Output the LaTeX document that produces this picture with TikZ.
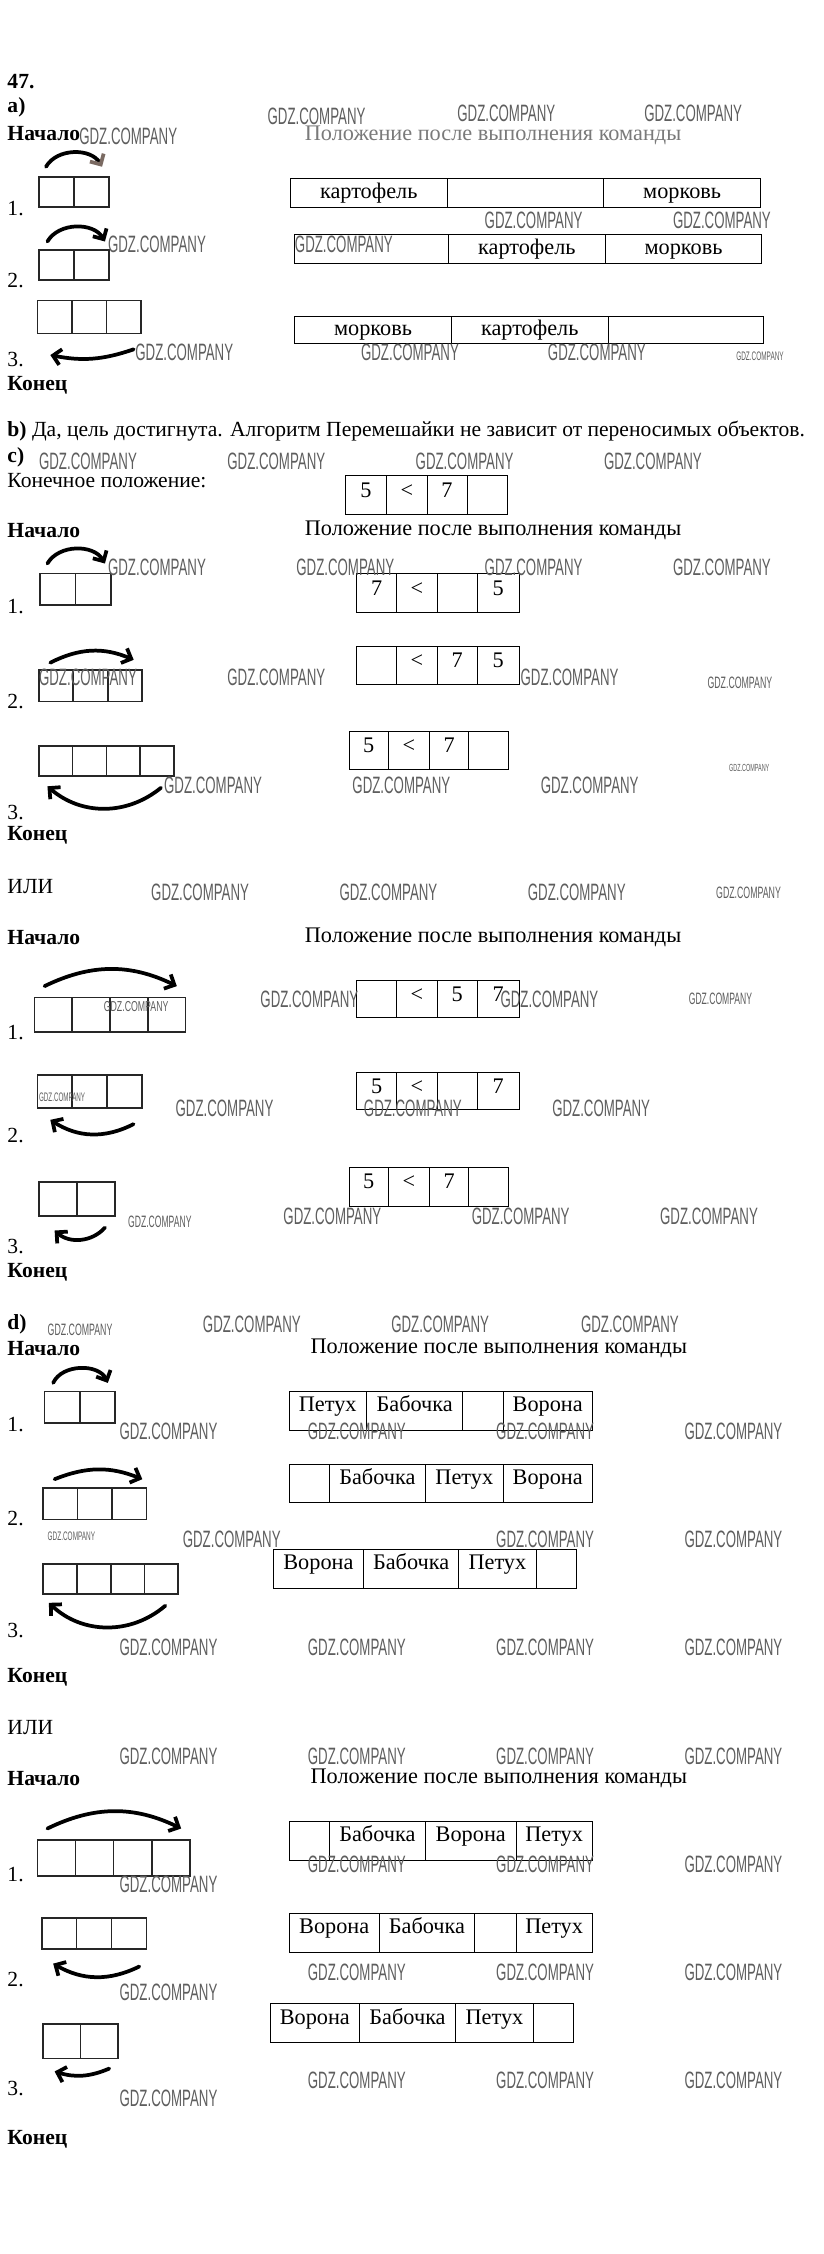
\documentclass[tikz,border=0pt]{standalone}
\usepackage{fontspec}
\setmainfont{Liberation Serif}
\newfontfamily\gdzfont{Liberation Sans}
\usetikzlibrary{arrows.meta,positioning}
\definecolor{MarkGray}{HTML}{5E5E5E}
\definecolor{TitleGray}{HTML}{7A7A7A}
\definecolor{TipBrown}{HTML}{7A6A62}
\newcommand{\gdz}[2]{\resizebox{#1pt}{#2pt}{\gdzfont GDZ.COMPANY}}
\tikzset{
    txt/.style={anchor=west, inner sep=0pt, font=\fontsize{15}{17}\selectfont},
    bold/.style={anchor=west, inner sep=0pt, font=\fontsize{15}{17}\selectfont\bfseries},
    title/.style={inner sep=0pt, font=\fontsize{15.5}{17}\selectfont},
    wmark/.style={anchor=west, inner sep=0pt, text=MarkGray},
    box/.style 2 args={draw=black!85, line width=1.2pt, inner sep=0pt, outer sep=0pt, minimum width=#1pt, minimum height=#2pt},
    cell/.style n args={3}{draw, line width=.6pt, inner sep=0pt, outer sep=0pt, minimum width=#1pt, minimum height=#2pt, text height=10pt, text depth=#3pt, font=\fontsize{15.5}{17}\selectfont},
    move/.style={line width=2.6pt, line cap=round, -{Straight Barb[length=5.5pt,width=11pt]}}
}

\begin{document}
\begin{tikzpicture}[x=1pt,y=1pt]
    \useasboundingbox (0,0) rectangle (573,-1568);
    \fill[white] (0,0) rectangle (573,-1568);

    \node[bold] (n47) at (5,-57) {47.};
    \node[bold] (pa) at (5,-75) {a)};
    \node[bold] (starta) at (5,-93) {Начало};
    \node[title, text=TitleGray] (titlea) at (343,-94) {Положение после выполнения команды};
    \node[txt] (sa1) at (5,-145) {1.};
    \node[txt] (sa2) at (5,-195) {2.};
    \node[txt] (sa3) at (5,-250) {3.};
    \node[bold] (enda) at (5,-268) {Конец};

    \node[box={24.5}{21}, anchor=north west] (ga1-1) at (27,-123) {};
    \node[box={24.5}{21}, right=0pt of ga1-1] (ga1-2) {};
    \node[box={24.5}{21}, anchor=north west] (ga2-1) at (27,-174) {};
    \node[box={24.5}{21}, right=0pt of ga2-1] (ga2-2) {};
    \node[box={24}{23}, anchor=north west] (ga3-1) at (26,-209) {};
    \node[box={24}{23}, right=0pt of ga3-1] (ga3-2) {};
    \node[box={24}{23}, right=0pt of ga3-2] (ga3-3) {};
    \draw[move, -{Straight Barb[length=5.5pt,width=11pt,color=TipBrown]}] ([shift={(5,7)}]ga1-1.north west) to[bend left=60] ([shift={(-5,7)}]ga1-2.north east);
    \draw[move] ([shift={(6,6)}]ga2-1.north west) to[bend left=60] ([shift={(-3,6)}]ga2-2.north east);
    \draw[move] ([shift={(-5,-11)}]ga3-3.south east) to[bend left=15] ([shift={(9,-15)}]ga3-1.south west);

    \node[cell={109}{20}{2}, anchor=north west] (ta1-1) at (202,-124) {картофель};
    \node[cell={109}{20}{2}, right=0pt of ta1-1] (ta1-2) {};
    \node[cell={109}{20}{2}, right=0pt of ta1-2] (ta1-3) {морковь};
    \node[cell={107}{20}{2}, anchor=north west] (ta2-1) at (205,-163) {};
    \node[cell={109}{20}{2}, right=0pt of ta2-1] (ta2-2) {картофель};
    \node[cell={109}{20}{2}, right=0pt of ta2-2] (ta2-3) {морковь};
    \node[cell={109}{19}{2}, anchor=north west] (ta3-1) at (205,-220) {морковь};
    \node[cell={109}{19}{2}, right=0pt of ta3-1] (ta3-2) {картофель};
    \node[cell={108}{19}{2}, right=0pt of ta3-2] (ta3-3) {};

    \node[txt] (pb) at (5,-300) {\textbf{b)} Да, цель достигнута. Алгоритм Перемешайки не зависит от переносимых объектов.};
    \node[bold] (pc) at (5,-318) {c)};
    \node[txt] (goal) at (5,-334) {Конечное положение:};
    \node[cell={29}{27}{7}, anchor=north west] (tc0-1) at (240,-331) {5};
    \node[cell={28}{27}{7}, right=0pt of tc0-1] (tc0-2) {<};
    \node[cell={28}{27}{7}, right=0pt of tc0-2] (tc0-3) {7};
    \node[cell={28}{27}{7}, right=0pt of tc0-3] (tc0-4) {};
    \node[bold] (startc) at (5,-369) {Начало};
    \node[title] (titlec) at (343,-369) {Положение после выполнения команды};
    \node[txt] (sc1) at (5,-422) {1.};
    \node[txt] (sc2) at (5,-488) {2.};
    \node[txt] (sc3) at (5,-565) {3.};
    \node[bold] (endc) at (5,-581) {Конец};

    \node[box={24.5}{22}, anchor=north west] (gc1-1) at (28,-399) {};
    \node[box={24.5}{22}, right=0pt of gc1-1] (gc1-2) {};
    \node[box={24}{22}, anchor=north west] (gc2-1) at (27,-466) {};
    \node[box={24}{22}, right=0pt of gc2-1] (gc2-2) {};
    \node[box={24}{22}, right=0pt of gc2-2] (gc2-3) {};
    \node[box={23.5}{21}, anchor=north west] (gc3-1) at (27,-519) {};
    \node[box={23.5}{21}, right=0pt of gc3-1] (gc3-2) {};
    \node[box={23.5}{21}, right=0pt of gc3-2] (gc3-3) {};
    \node[box={23.5}{21}, right=0pt of gc3-3] (gc3-4) {};
    \draw[move] ([shift={(5,7)}]gc1-1.north west) to[bend left=60] ([shift={(-4,7)}]gc1-2.north east);
    \draw[move] ([shift={(8,5)}]gc2-1.north west) to[bend left=25] ([shift={(-6,7)}]gc2-3.north east);
    \draw[move] ([shift={(-9,-8)}]gc3-4.south east) to[bend left=40] ([shift={(6,-7)}]gc3-1.south west);

    \node[cell={28}{27}{7}, anchor=north west] (tc1-1) at (248,-399) {7};
    \node[cell={28}{27}{7}, right=0pt of tc1-1] (tc1-2) {<};
    \node[cell={28}{27}{7}, right=0pt of tc1-2] (tc1-3) {};
    \node[cell={29}{27}{7}, right=0pt of tc1-3] (tc1-4) {5};
    \node[cell={28}{26}{7}, anchor=north west] (tc2-1) at (248,-450) {};
    \node[cell={28}{26}{7}, right=0pt of tc2-1] (tc2-2) {<};
    \node[cell={28}{26}{7}, right=0pt of tc2-2] (tc2-3) {7};
    \node[cell={29}{26}{7}, right=0pt of tc2-3] (tc2-4) {5};
    \node[cell={27}{26}{7}, anchor=north west] (tc3-1) at (243,-509) {5};
    \node[cell={29}{26}{7}, right=0pt of tc3-1] (tc3-2) {<};
    \node[cell={27}{26}{7}, right=0pt of tc3-2] (tc3-3) {7};
    \node[cell={28}{26}{7}, right=0pt of tc3-3] (tc3-4) {};

    \node[txt] (ora) at (5,-617) {ИЛИ};
    \node[bold] (starto) at (5,-652) {Начало};
    \node[title] (titleo) at (343,-652) {Положение после выполнения команды};
    \node[txt] (so1) at (5,-718) {1.};
    \node[txt] (so2) at (5,-790) {2.};
    \node[txt] (so3) at (5,-867) {3.};
    \node[bold] (endo) at (5,-885) {Конец};

    \node[box={26.25}{24}, anchor=north west] (go1-1) at (24,-694) {};
    \node[box={26.25}{24}, right=0pt of go1-1] (go1-2) {};
    \node[box={26.25}{24}, right=0pt of go1-2] (go1-3) {};
    \node[box={26.25}{24}, right=0pt of go1-3] (go1-4) {};
    \node[box={24.3}{23}, anchor=north west] (go2-1) at (26,-748) {};
    \node[box={24.3}{23}, right=0pt of go2-1] (go2-2) {};
    \node[box={24.3}{23}, right=0pt of go2-2] (go2-3) {};
    \node[box={26.5}{24}, anchor=north west] (go3-1) at (27,-822) {};
    \node[box={26.5}{24}, right=0pt of go3-1] (go3-2) {};
    \draw[move] ([shift={(7,8)}]go1-1.north west) to[bend left=26] ([shift={(-6,8)}]go1-4.north east);
    \draw[move] ([shift={(-6,-11)}]go2-3.south east) to[bend left=30] ([shift={(9,-8)}]go2-1.south west);
    \draw[move] ([shift={(-7,-8)}]go3-2.south east) to[bend left=45] ([shift={(11,-10)}]go3-1.south west);

    \node[cell={28}{26}{7}, anchor=north west] (to1-1) at (248,-682) {};
    \node[cell={28}{26}{7}, right=0pt of to1-1] (to1-2) {<};
    \node[cell={28}{26}{7}, right=0pt of to1-2] (to1-3) {5};
    \node[cell={29}{26}{7}, right=0pt of to1-3] (to1-4) {7};
    \node[cell={28}{26}{7}, anchor=north west] (to2-1) at (248,-746) {5};
    \node[cell={28}{26}{7}, right=0pt of to2-1] (to2-2) {<};
    \node[cell={28}{26}{7}, right=0pt of to2-2] (to2-3) {};
    \node[cell={29}{26}{7}, right=0pt of to2-3] (to2-4) {7};
    \node[cell={27}{27}{7}, anchor=north west] (to3-1) at (243,-812) {5};
    \node[cell={29}{27}{7}, right=0pt of to3-1] (to3-2) {<};
    \node[cell={27}{27}{7}, right=0pt of to3-2] (to3-3) {7};
    \node[cell={28}{27}{7}, right=0pt of to3-3] (to3-4) {};

    \node[bold] (pd) at (5,-921) {d)};
    \node[bold] (startd) at (5,-938) {Начало};
    \node[title] (titled) at (347,-938) {Положение после выполнения команды};
    \node[txt] (sd1) at (5,-991) {1.};
    \node[txt] (sd2) at (5,-1056) {2.};
    \node[txt] (sd3) at (5,-1134) {3.};
    \node[bold] (endd) at (5,-1167) {Конец};

    \node[box={24.5}{22}, anchor=north west] (gd1-1) at (31,-968) {};
    \node[box={24.5}{22}, right=0pt of gd1-1] (gd1-2) {};
    \node[box={24}{22}, anchor=north west] (gd2-1) at (30,-1035) {};
    \node[box={24}{22}, right=0pt of gd2-1] (gd2-2) {};
    \node[box={24}{22}, right=0pt of gd2-2] (gd2-3) {};
    \node[box={23.5}{21}, anchor=north west] (gd3-1) at (30,-1088) {};
    \node[box={23.5}{21}, right=0pt of gd3-1] (gd3-2) {};
    \node[box={23.5}{21}, right=0pt of gd3-2] (gd3-3) {};
    \node[box={23.5}{21}, right=0pt of gd3-3] (gd3-4) {};
    \draw[move] ([shift={(6,6)}]gd1-1.north west) to[bend left=65] ([shift={(-5,6)}]gd1-2.north east);
    \draw[move] ([shift={(8,6)}]gd2-1.north west) to[bend left=22] ([shift={(-3,6)}]gd2-3.north east);
    \draw[move] ([shift={(-9,-8)}]gd3-4.south east) to[bend left=42] ([shift={(4,-6)}]gd3-1.south west);

    \node[cell={54}{27}{9}, anchor=north west] (td1-1) at (201,-968) {Петух};
    \node[cell={67}{27}{9}, right=0pt of td1-1] (td1-2) {Бабочка};
    \node[cell={28}{27}{9}, right=0pt of td1-2] (td1-3) {};
    \node[cell={62}{27}{9}, right=0pt of td1-3] (td1-4) {Ворона};
    \node[cell={28}{26}{9}, anchor=north west] (td2-1) at (201,-1019) {};
    \node[cell={67}{26}{9}, right=0pt of td2-1] (td2-2) {Бабочка};
    \node[cell={54}{26}{9}, right=0pt of td2-2] (td2-3) {Петух};
    \node[cell={62}{26}{9}, right=0pt of td2-3] (td2-4) {Ворона};
    \node[cell={63}{27}{9}, anchor=north west] (td3-1) at (190,-1078) {Ворона};
    \node[cell={66}{27}{9}, right=0pt of td3-1] (td3-2) {Бабочка};
    \node[cell={54}{27}{9}, right=0pt of td3-2] (td3-3) {Петух};
    \node[cell={28}{27}{9}, right=0pt of td3-3] (td3-4) {};

    \node[txt] (ore) at (5,-1202) {ИЛИ};
    \node[bold] (starte) at (5,-1237) {Начало};
    \node[title] (titlee) at (347,-1237) {Положение после выполнения команды};
    \node[txt] (se1) at (5,-1304) {1.};
    \node[txt] (se2) at (5,-1377) {2.};
    \node[txt] (se3) at (5,-1453) {3.};
    \node[bold] (ende) at (5,-1488) {Конец};

    \node[box={26.5}{25}, anchor=north west] (ge1-1) at (26,-1280) {};
    \node[box={26.5}{25}, right=0pt of ge1-1] (ge1-2) {};
    \node[box={26.5}{25}, right=0pt of ge1-2] (ge1-3) {};
    \node[box={26.5}{25}, right=0pt of ge1-3] (ge1-4) {};
    \node[box={24.3}{22}, anchor=north west] (ge2-1) at (29,-1334) {};
    \node[box={24.3}{22}, right=0pt of ge2-1] (ge2-2) {};
    \node[box={24.3}{22}, right=0pt of ge2-2] (ge2-3) {};
    \node[box={26}{24}, anchor=north west] (ge3-1) at (30,-1408) {};
    \node[box={26}{24}, right=0pt of ge3-1] (ge3-2) {};
    \draw[move] ([shift={(7,8)}]ge1-1.north west) to[bend left=26] ([shift={(-6,8)}]ge1-4.north east);
    \draw[move] ([shift={(-5,-12)}]ge2-3.south east) to[bend left=28] ([shift={(8,-10)}]ge2-1.south west);
    \draw[move] ([shift={(-6,-7)}]ge3-2.south east) to[bend left=20] ([shift={(8,-9)}]ge3-1.south west);

    \node[cell={28}{27}{9}, anchor=north west] (te1-1) at (201,-1267) {};
    \node[cell={67}{27}{9}, right=0pt of te1-1] (te1-2) {Бабочка};
    \node[cell={63}{27}{9}, right=0pt of te1-2] (te1-3) {Ворона};
    \node[cell={53}{27}{9}, right=0pt of te1-3] (te1-4) {Петух};
    \node[cell={63}{27}{9}, anchor=north west] (te2-1) at (201,-1331) {Ворона};
    \node[cell={66}{27}{9}, right=0pt of te2-1] (te2-2) {Бабочка};
    \node[cell={29}{27}{9}, right=0pt of te2-2] (te2-3) {};
    \node[cell={53}{27}{9}, right=0pt of te2-3] (te2-4) {Петух};
    \node[cell={62}{27}{9}, anchor=north west] (te3-1) at (188,-1394) {Ворона};
    \node[cell={67}{27}{9}, right=0pt of te3-1] (te3-2) {Бабочка};
    \node[cell={54}{27}{9}, right=0pt of te3-2] (te3-3) {Петух};
    \node[cell={28}{27}{9}, right=0pt of te3-3] (te3-4) {};

    \node[wmark] (w1) at (55,-95) {\gdz{68}{11.5}};
    \node[wmark] (w2) at (186,-81) {\gdz{68}{11.5}};
    \node[wmark] (w3) at (318,-79) {\gdz{68}{11.5}};
    \node[wmark] (w4) at (448,-79) {\gdz{68}{11.5}};
    \node[wmark] (w5) at (337,-153) {\gdz{68}{11.5}};
    \node[wmark] (w6) at (468,-153) {\gdz{68}{11.5}};
    \node[wmark] (w7) at (75,-170) {\gdz{68}{11.5}};
    \node[wmark] (w8) at (205,-170) {\gdz{68}{11.5}};
    \node[wmark] (w9) at (94,-245) {\gdz{68}{11.5}};
    \node[wmark] (w10) at (251,-245) {\gdz{68}{11.5}};
    \node[wmark] (w11) at (381,-245) {\gdz{68}{11.5}};
    \node[wmark] (w12) at (512,-248) {\gdz{33}{6}};
    \node[wmark] (w13) at (27,-321) {\gdz{68}{11.5}};
    \node[wmark] (w14) at (158,-321) {\gdz{68}{11.5}};
    \node[wmark] (w15) at (289,-321) {\gdz{68}{11.5}};
    \node[wmark] (w16) at (420,-321) {\gdz{68}{11.5}};
    \node[wmark] (w17) at (75,-395) {\gdz{68}{11.5}};
    \node[wmark] (w18) at (206,-395) {\gdz{68}{11.5}};
    \node[wmark] (w19) at (337,-395) {\gdz{68}{11.5}};
    \node[wmark] (w20) at (468,-395) {\gdz{68}{11.5}};
    \node[wmark] (w21) at (27,-471) {\gdz{68}{11.5}};
    \node[wmark] (w22) at (158,-471) {\gdz{68}{11.5}};
    \node[wmark] (w23) at (362,-471) {\gdz{68}{11.5}};
    \node[wmark] (w24) at (492,-475) {\gdz{45}{8}};
    \node[wmark] (w25) at (114,-546) {\gdz{68}{11.5}};
    \node[wmark] (w26) at (245,-546) {\gdz{68}{11.5}};
    \node[wmark] (w27) at (376,-546) {\gdz{68}{11.5}};
    \node[wmark] (w28) at (507,-534) {\gdz{28}{5}};
    \node[wmark] (w29) at (105,-621) {\gdz{68}{11.5}};
    \node[wmark] (w30) at (236,-621) {\gdz{68}{11.5}};
    \node[wmark] (w31) at (367,-621) {\gdz{68}{11.5}};
    \node[wmark] (w32) at (498,-621) {\gdz{45}{8}};
    \node[wmark] (w33) at (72,-700) {\gdz{45}{7}};
    \node[wmark] (w34) at (181,-695) {\gdz{68}{11.5}};
    \node[wmark] (w35) at (348,-695) {\gdz{68}{11.5}};
    \node[wmark] (w36) at (479,-695) {\gdz{44}{8}};
    \node[wmark] (w37) at (27,-763) {\gdz{32}{6}};
    \node[wmark] (w38) at (122,-771) {\gdz{68}{11.5}};
    \node[wmark] (w39) at (253,-771) {\gdz{68}{11.5}};
    \node[wmark] (w40) at (384,-771) {\gdz{68}{11.5}};
    \node[wmark] (w41) at (89,-850) {\gdz{44}{8}};
    \node[wmark] (w42) at (197,-846) {\gdz{68}{11.5}};
    \node[wmark] (w43) at (328,-846) {\gdz{68}{11.5}};
    \node[wmark] (w44) at (459,-846) {\gdz{68}{11.5}};
    \node[wmark] (w45) at (33,-925) {\gdz{45}{8}};
    \node[wmark] (w46) at (141,-921) {\gdz{68}{11.5}};
    \node[wmark] (w47) at (272,-921) {\gdz{68}{11.5}};
    \node[wmark] (w48) at (404,-921) {\gdz{68}{11.5}};
    \node[wmark] (w49) at (83,-996) {\gdz{68}{11.5}};
    \node[wmark] (w50) at (214,-996) {\gdz{68}{11.5}};
    \node[wmark] (w51) at (345,-996) {\gdz{68}{11.5}};
    \node[wmark] (w52) at (476,-996) {\gdz{68}{11.5}};
    \node[wmark] (w53) at (33,-1069) {\gdz{33}{6}};
    \node[wmark] (w54) at (127,-1071) {\gdz{68}{11.5}};
    \node[wmark] (w55) at (345,-1071) {\gdz{68}{11.5}};
    \node[wmark] (w56) at (476,-1071) {\gdz{68}{11.5}};
    \node[wmark] (w57) at (83,-1146) {\gdz{68}{11.5}};
    \node[wmark] (w58) at (214,-1146) {\gdz{68}{11.5}};
    \node[wmark] (w59) at (345,-1146) {\gdz{68}{11.5}};
    \node[wmark] (w60) at (476,-1146) {\gdz{68}{11.5}};
    \node[wmark] (w61) at (83,-1222) {\gdz{68}{11.5}};
    \node[wmark] (w62) at (214,-1222) {\gdz{68}{11.5}};
    \node[wmark] (w63) at (345,-1222) {\gdz{68}{11.5}};
    \node[wmark] (w64) at (476,-1222) {\gdz{68}{11.5}};
    \node[wmark] (w65) at (214,-1297) {\gdz{68}{11.5}};
    \node[wmark] (w66) at (345,-1297) {\gdz{68}{11.5}};
    \node[wmark] (w67) at (476,-1297) {\gdz{68}{11.5}};
    \node[wmark] (w68) at (83,-1311) {\gdz{68}{11.5}};
    \node[wmark] (w69) at (214,-1372) {\gdz{68}{11.5}};
    \node[wmark] (w70) at (345,-1372) {\gdz{68}{11.5}};
    \node[wmark] (w71) at (476,-1372) {\gdz{68}{11.5}};
    \node[wmark] (w72) at (83,-1386) {\gdz{68}{11.5}};
    \node[wmark] (w73) at (214,-1447) {\gdz{68}{11.5}};
    \node[wmark] (w74) at (345,-1447) {\gdz{68}{11.5}};
    \node[wmark] (w75) at (476,-1447) {\gdz{68}{11.5}};
    \node[wmark] (w76) at (83,-1460) {\gdz{68}{11.5}};
\end{tikzpicture}
\end{document}
